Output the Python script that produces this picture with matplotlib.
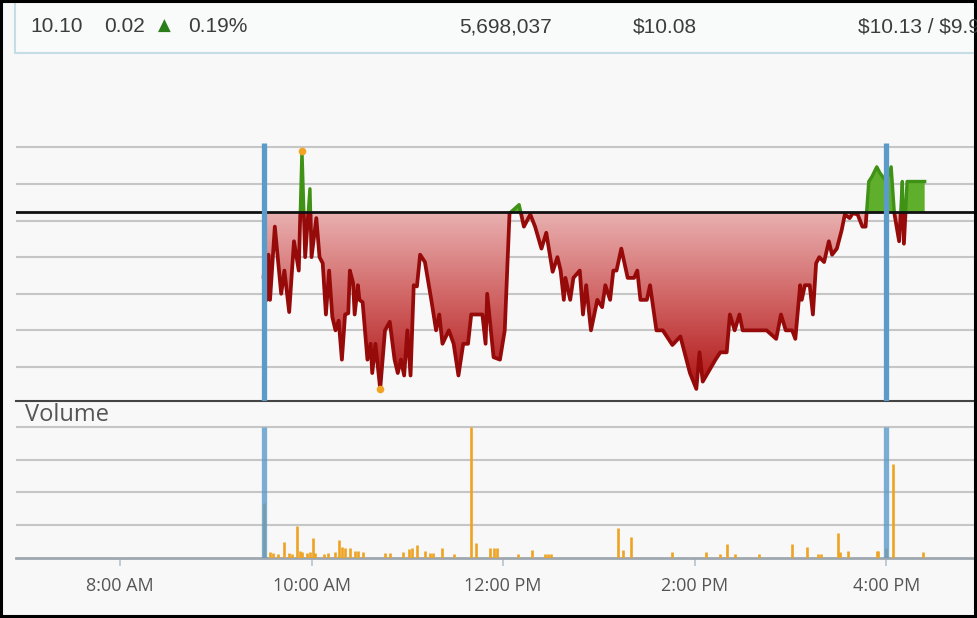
import numpy as np
import matplotlib
matplotlib.use("Agg")
import matplotlib.pyplot as plt
from matplotlib.colors import LinearSegmentedColormap
from matplotlib.patches import Rectangle, PathPatch
from matplotlib.path import Path

# intraday price
price_times = [
    "09:30", "09:31", "09:32", "09:33", "09:34", "09:37", "09:41", "09:43", "09:46", "09:49",
    "09:52", "09:54", "09:56", "09:59", "10:00", "10:03", "10:05", "10:07", "10:09", "10:11",
    "10:13", "10:15", "10:17", "10:19", "10:21", "10:23", "10:24", "10:26", "10:27", "10:29",
    "10:30", "10:32", "10:35", "10:37", "10:38", "10:40", "10:43", "10:46", "10:49", "10:52",
    "10:54", "10:56", "10:58", "11:00", "11:02", "11:04", "11:06", "11:08", "11:11", "11:15",
    "11:18", "11:20", "11:22", "11:26", "11:29", "11:32", "11:35", "11:38", "11:40", "11:47",
    "11:49", "11:50", "11:54", "11:58", "12:01", "12:04", "12:10", "12:13", "12:17", "12:20",
    "12:24", "12:27", "12:31", "12:34", "12:36", "12:38", "12:39", "12:42", "12:44", "12:48",
    "12:50", "12:52", "12:55", "12:59", "13:02", "13:04", "13:07", "13:09", "13:11", "13:14",
    "13:18", "13:22", "13:24", "13:26", "13:30", "13:32", "13:36", "13:40", "13:46", "13:51",
    "13:57", "14:01", "14:03", "14:05", "14:09", "14:13", "14:16", "14:20", "14:22", "14:25",
    "14:28", "14:30", "14:45", "14:51", "14:54", "14:57", "15:01", "15:03", "15:06", "15:07",
    "15:09", "15:12", "15:14", "15:16", "15:18", "15:21", "15:24", "15:26", "15:29", "15:32",
    "15:34", "15:37", "15:39", "15:42", "15:45", "15:47", "15:49", "15:51", "15:54", "15:56",
    "16:00", "16:03", "16:05", "16:08", "16:09", "16:10", "16:11", "16:13", "16:24",
]
prices = [
    10.027, 10.045, 10.008, 10.045, 10.008, 10.068, 10.013, 10.032, 9.998, 10.056,
    10.032, 10.130, 10.043, 10.099, 10.043, 10.075, 10.043, 10.038, 9.996, 10.032,
    9.994, 9.983, 9.991, 9.959, 9.996, 9.997, 10.032, 10.022, 9.996, 10.020,
    10.008, 10.006, 9.959, 9.972, 9.948, 9.972, 9.935, 9.983, 9.990, 9.959,
    9.948, 9.959, 9.946, 9.983, 9.946, 10.020, 10.019, 10.045, 10.039, 10.008,
    9.983, 9.996, 9.972, 9.983, 9.972, 9.946, 9.972, 9.972, 9.996, 9.996,
    9.972, 10.013, 9.961, 9.959, 9.983, 10.079, 10.086, 10.068, 10.078, 10.068,
    10.050, 10.063, 10.031, 10.043, 10.032, 10.008, 10.026, 10.008, 10.026, 10.032,
    9.996, 10.020, 9.983, 10.008, 10.002, 10.020, 10.008, 10.032, 10.032, 10.050,
    10.026, 10.026, 10.032, 10.008, 10.008, 10.020, 9.983, 9.983, 9.971, 9.978,
    9.948, 9.935, 9.965, 9.941, 9.950, 9.959, 9.965, 9.965, 9.996, 9.983,
    9.996, 9.983, 9.983, 9.976, 9.996, 9.983, 9.983, 9.976, 10.020, 10.008,
    10.020, 10.020, 9.996, 10.038, 10.043, 10.039, 10.056, 10.045, 10.050, 10.065,
    10.078, 10.075, 10.079, 10.078, 10.068, 10.068, 10.105, 10.109, 10.117, 10.112,
    10.105, 10.117, 10.079, 10.056, 10.079, 10.105, 10.054, 10.105, 10.105,
]
prev_close = 10.08

# volume bars
vol_times = [
    "09:30", "09:34", "09:36", "09:39", "09:43", "09:46", "09:48", "09:51", "09:53", "09:54",
    "09:57", "09:59", "10:01", "10:02", "10:08", "10:10", "10:15", "10:17", "10:19", "10:21",
    "10:24", "10:27", "10:29", "10:32", "10:46", "10:49", "10:57", "11:01", "11:03", "11:06",
    "11:11", "11:14", "11:16", "11:22", "11:29", "11:40", "11:43", "11:52", "11:54", "11:56",
    "12:09", "12:18", "12:26", "12:28", "12:30", "13:12", "13:15", "13:20", "13:46", "14:07",
    "14:16", "14:20", "14:25", "14:40", "15:01", "15:10", "15:17", "15:19", "15:30", "15:31",
    "15:36", "15:54", "15:55", "16:00", "16:04", "16:23",
]
volumes = [
    417000, 45000, 35000, 27000, 122000, 35000, 27000, 242000, 52000, 45000,
    35000, 45000, 148000, 37000, 27000, 32000, 45000, 135000, 83000, 75000,
    71000, 52000, 52000, 45000, 32000, 32000, 45000, 63000, 71000, 96000,
    52000, 37000, 32000, 71000, 27000, 1000000, 109000, 71000, 71000, 71000,
    25000, 58000, 25000, 25000, 25000, 225000, 58000, 160000, 40000, 40000,
    25000, 104000, 25000, 25000, 104000, 78000, 25000, 25000, 186000, 40000,
    52000, 52000, 52000, 75000, 717000, 40000,
]

session_marks = ["09:30", "16:00"]
tick_times = ["08:00", "10:00", "12:00", "14:00", "16:00"]
tick_labels = ["8:00 AM", "10:00 AM", "12:00 PM", "2:00 PM", "4:00 PM"]

# header quote strip
quote_last = "10.10"
quote_change = "0.02"
quote_pct = "0.19%"
quote_volume = "5,698,037"
quote_open = "$10.08"
quote_range = "$10.13 / $9.96"


def to_min(hhmm):
    h, m = hhmm.split(":")
    return int(h) * 60 + int(m)


def main():
    t = np.array([to_min(s) for s in price_times], dtype=float)
    p = np.array(prices)
    tv = np.array([to_min(s) for s in vol_times], dtype=float)
    v = np.array(volumes)

    W, H = 978, 618
    fig = plt.figure(figsize=(W / 100, H / 100), dpi=100, facecolor="#f8f8f8")
    ax = fig.add_axes([16 / W, 1 - 401 / H, 962 / W, 271 / H])
    axv = fig.add_axes([16 / W, 1 - 557.5 / H, 962 / W, 137.5 / H], sharex=ax)
    for a in (ax, axv):
        a.set_facecolor("none")
        for s in a.spines.values():
            s.set_visible(False)

    xlim = (414.9, 1017.4)
    ylim = (9.9251, 10.1472)

    # red gradient area under the previous close
    below = ax.fill_between(t, p, prev_close, where=p <= prev_close, interpolate=True,
                            facecolor="none", edgecolor="none")
    clip = PathPatch(Path.make_compound_path(*below.get_paths()), transform=ax.transData,
                     facecolor="none", edgecolor="none")
    ax.add_patch(clip)
    cmap = LinearSegmentedColormap.from_list("reds", ["#e9b0b0", "#d06262", "#b01515"])
    grad = np.linspace(0, 1, 256).reshape(-1, 1)
    im = ax.imshow(grad, cmap=cmap, aspect="auto", origin="upper", zorder=1,
                   extent=[t.min(), t.max(), p.min(), prev_close])
    im.set_clip_path(clip)

    # green area above
    ax.fill_between(t, p, prev_close, where=p >= prev_close, interpolate=True,
                    color="#5fae2c", lw=0, zorder=1.5)

    red_clip = Rectangle((xlim[0], ylim[0]), xlim[1] - xlim[0], prev_close - ylim[0],
                         transform=ax.transData)
    green_clip = Rectangle((xlim[0], prev_close), xlim[1] - xlim[0], ylim[1] - prev_close,
                           transform=ax.transData)
    ln_r, = ax.plot(t, p, color="#960a0a", lw=2.7, zorder=3, solid_joinstyle="round")
    ln_r.set_clip_path(red_clip)
    ln_g, = ax.plot(t, p, color="#3f9216", lw=2.4, zorder=3, solid_joinstyle="round")
    ln_g.set_clip_path(green_clip)

    ax.axhline(prev_close, color="#111111", lw=2.0, zorder=4)

    hi, lo = np.argmax(p), np.argmin(p)
    ax.plot([t[hi], t[lo]], [p[hi], p[lo]], "o", color="#f3a324", ms=5.5, mec="none", zorder=5)

    for s in session_marks:
        ax.axvline(to_min(s), ymin=0, ymax=(401 - 143) / 271, color="#5b9bca", lw=3.8,
                   zorder=6, solid_capstyle="butt")
        axv.axvline(to_min(s), ymin=0, ymax=(557.5 - 427) / 137.5, color="#5b9bca", lw=3.8,
                    alpha=0.8, zorder=6, solid_capstyle="butt")

    ax.set_yticks(np.arange(10.133, 9.94, -0.03))
    ax.grid(axis="y", color="#c6c6c6", lw=1.5)
    ax.set_axisbelow(True)
    ax.spines["bottom"].set_visible(True)
    ax.spines["bottom"].set_color("#444444")
    ax.spines["bottom"].set_linewidth(1.5)
    ax.tick_params(left=False, labelleft=False, bottom=False, labelbottom=False)
    ax.set_xlim(*xlim)
    ax.set_ylim(*ylim)

    # volume panel
    axv.vlines(tv, 0, v, color="#eea322", lw=1.9, zorder=3)
    axv.set_ylim(0, 1057650)
    axv.set_yticks([250000, 500000, 750000, 1000000])
    axv.grid(axis="y", color="#c6c6c6", lw=1.5)
    axv.set_axisbelow(True)
    axv.spines["bottom"].set_visible(True)
    axv.spines["bottom"].set_color("#9ea7b0")
    axv.spines["bottom"].set_linewidth(2.0)
    axv.set_xticks([to_min(s) for s in tick_times])
    axv.set_xticklabels(tick_labels, family="Open Sans")
    axv.tick_params(axis="x", length=6, width=1.2, color="#b5c3d0", pad=8,
                    labelsize=13, labelcolor="#555555")
    axv.tick_params(axis="y", left=False, labelleft=False)
    axv.set_xlim(*xlim)

    fig.text(25 / W, 1 - 415 / H, "Volume", fontsize=17, color="#555555", va="center",
             family="Open Sans")

    # header strip
    fig.add_artist(Rectangle((15 / W, 1 - 53 / H), 1.0, 0.2, transform=fig.transFigure,
                             facecolor="#f9fafa", edgecolor="#c6dde6", lw=1.5))
    hy = 1 - 27 / H
    hdr = dict(fontsize=15, color="#3c3c3c", va="center", family="Liberation Sans",
               parse_math=False)
    fig.text(30 / W, hy, quote_last, **hdr)
    fig.text(104 / W, hy, quote_change, **hdr)
    fig.text(158 / W, hy + 0.002, "\u25b2", fontsize=12, color="#2b7d1c", va="center",
             family="DejaVu Sans")
    fig.text(188 / W, hy, quote_pct, **hdr)
    fig.text(459 / W, hy, quote_volume, **hdr)
    fig.text(633 / W, hy, quote_open, **hdr)
    fig.text(858 / W, hy, quote_range, **hdr)

    fig.add_artist(Rectangle((1 / W, 2 / H), 974 / W, 615 / H, transform=fig.transFigure,
                             fill=False, edgecolor="black", lw=2.2))

    fig.savefig("out.png", dpi=100, facecolor=fig.get_facecolor())
    plt.close(fig)


if __name__ == "__main__":
    main()
